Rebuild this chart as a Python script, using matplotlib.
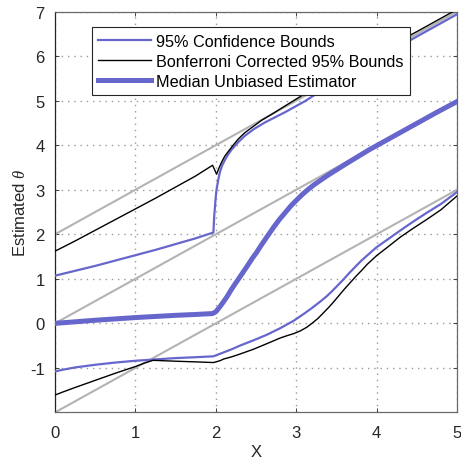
import matplotlib
matplotlib.use("Agg")
import matplotlib.pyplot as plt

plt.rcParams['font.family'] = ['Liberation Sans', 'DejaVu Sans']
plt.rcParams['mathtext.fontset'] = 'custom'
plt.rcParams['mathtext.it'] = 'Liberation Serif:italic'
plt.rcParams['axes.unicode_minus'] = False

# Reference diagonals y = x + offset
diag_x = [0, 5]
diag_offsets = [2, 0, -2]

# 95% confidence bounds
ci_hi_x = [0, 0.25, 0.5, 0.75, 1, 1.25, 1.5, 1.75, 1.97, 1.98, 2.0, 2.01, 2.03, 2.05,
           2.08, 2.12, 2.16, 2.2, 2.28, 2.36, 2.48, 2.61, 2.75, 2.86, 3.0, 3.11, 3.3,
           3.5, 3.75, 4.0, 4.25, 4.5, 4.75, 5.0]
ci_hi_y = [1.07, 1.18, 1.29, 1.41, 1.53, 1.65, 1.78, 1.91, 2.04, 2.4, 2.85, 3.01, 3.22,
           3.39, 3.55, 3.69, 3.81, 3.91, 4.07, 4.21, 4.37, 4.51, 4.64, 4.74, 4.88, 4.99,
           5.21, 5.42, 5.68, 5.93, 6.19, 6.44, 6.69, 6.94]

ci_lo_x = [0, 0.1, 0.25, 0.5, 0.75, 1, 1.25, 1.5, 1.75, 1.97, 2.0, 2.1, 2.2, 2.3, 2.47,
           2.63, 2.8, 2.97, 3.1, 3.2, 3.3, 3.38, 3.45, 3.52, 3.59, 3.66, 3.73, 3.8, 3.88,
           4.0, 4.15, 4.29, 4.46, 4.63, 4.8, 5.0]
ci_lo_y = [-1.08, -1.04, -0.99, -0.93, -0.88, -0.84, -0.81, -0.78, -0.76, -0.74, -0.72,
           -0.65, -0.58, -0.50, -0.38, -0.26, -0.11, 0.06, 0.22, 0.35, 0.49, 0.61, 0.73,
           0.86, 0.99, 1.13, 1.26, 1.39, 1.52, 1.71, 1.9, 2.08, 2.29, 2.49, 2.68, 2.95]

# Bonferroni corrected 95% bounds
bonf_hi_x = [0, 0.25, 0.5, 0.75, 1, 1.25, 1.5, 1.75, 1.96, 2.01, 2.04, 2.07, 2.11, 2.16,
             2.22, 2.28, 2.36, 2.45, 2.57, 2.7, 2.86, 3.03, 3.25, 3.5, 3.75, 4.0, 4.25,
             4.5, 4.75, 4.95, 5.0]
bonf_hi_y = [1.62, 1.85, 2.09, 2.33, 2.57, 2.81, 3.06, 3.31, 3.55, 3.35, 3.49, 3.61,
             3.75, 3.87, 4.01, 4.14, 4.28, 4.40, 4.56, 4.70, 4.88, 5.07, 5.31, 5.56, 5.81,
             6.06, 6.31, 6.55, 6.80, 7.0, 7.05]

bonf_lo_x = [0, 0.1, 0.25, 0.5, 0.75, 1, 1.1, 1.22, 1.5, 1.75, 1.97, 2.05, 2.1, 2.2, 2.3,
             2.47, 2.63, 2.8, 2.88, 2.97, 3.05, 3.13, 3.21, 3.27, 3.33, 3.4, 3.46, 3.53,
             3.6, 3.68, 3.75, 3.82, 3.88, 3.94, 4.0, 4.15, 4.29, 4.46, 4.63, 4.8, 5.0]
bonf_lo_y = [-1.61, -1.54, -1.44, -1.28, -1.12, -0.97, -0.90, -0.83, -0.85, -0.865,
             -0.88, -0.84, -0.80, -0.75, -0.69, -0.58, -0.46, -0.33, -0.28, -0.23, -0.17,
             -0.09, 0.02, 0.11, 0.22, 0.35, 0.47, 0.62, 0.77, 0.93, 1.07, 1.2, 1.32, 1.42,
             1.52, 1.73, 1.93, 2.14, 2.34, 2.55, 2.86]

# Median unbiased estimator
mue_x = [0, 0.25, 0.5, 0.75, 1, 1.25, 1.5, 1.75, 1.96, 2.0, 2.05, 2.09, 2.14, 2.18, 2.23,
         2.28, 2.34, 2.4, 2.45, 2.51, 2.56, 2.62, 2.67, 2.72, 2.79, 2.86, 2.93, 3.0,
         3.08, 3.15, 3.22, 3.3, 3.38, 3.45, 3.53, 3.6, 3.7, 3.8, 3.9, 4.0, 4.25, 4.5,
         4.75, 5.0]
mue_y = [0.0, 0.035, 0.07, 0.10, 0.13, 0.155, 0.18, 0.20, 0.22, 0.26, 0.37, 0.47, 0.60,
         0.72, 0.86, 0.99, 1.15, 1.31, 1.45, 1.60, 1.74, 1.90, 2.03, 2.16, 2.33, 2.48,
         2.63, 2.76, 2.90, 3.01, 3.11, 3.21, 3.31, 3.39, 3.48, 3.56, 3.67, 3.78, 3.89,
         3.99, 4.24, 4.49, 4.74, 4.98]

x_ticks = [0, 1, 2, 3, 4, 5]
y_ticks = [-1, 0, 1, 2, 3, 4, 5, 6, 7]

blue = '#6666CC'
gray = '#B3B3B3'
axis_col = '#262626'

fig = plt.figure(figsize=(4.61, 4.64), dpi=100)
ax = fig.add_axes([0.1193, 0.109, 0.872, 0.8638])

for off in diag_offsets:
    ax.plot(diag_x, [v + off for v in diag_x], color=gray, lw=1.5, zorder=2)

h_ci, = ax.plot(ci_hi_x, ci_hi_y, color=blue, lw=1.6, zorder=3,
                label='95% Confidence Bounds')
ax.plot(ci_lo_x, ci_lo_y, color=blue, lw=1.6, zorder=3)
h_bf, = ax.plot(bonf_hi_x, bonf_hi_y, color='black', lw=1.0, zorder=4,
                label='Bonferroni Corrected 95% Bounds')
ax.plot(bonf_lo_x, bonf_lo_y, color='black', lw=1.0, zorder=4)
h_mu, = ax.plot(mue_x, mue_y, color=blue, lw=3.6, zorder=5,
                solid_joinstyle='round', label='Median Unbiased Estimator')

ax.set_xlim(0, 5)
ax.set_ylim(-2, 7)
ax.set_xticks(x_ticks)
ax.set_yticks(y_ticks)
ax.tick_params(direction='in', length=3, width=0.6, colors=axis_col,
               labelsize=12, top=True, right=True)
ax.tick_params(axis='x', pad=9)
ax.tick_params(axis='y', pad=7.5)
ax.grid(True, linestyle=(0, (1, 3.5)), color='#999999', lw=1.0)
for name, s in ax.spines.items():
    s.set_color('#262626' if name == 'left' else '#6a6a6a')
    s.set_linewidth(0.9)

ax.set_xlabel('X', fontsize=12, color=axis_col, labelpad=3)
ax.set_ylabel(r'Estimated $\theta$', fontsize=12, color=axis_col, labelpad=1)

leg = ax.legend(handles=[h_ci, h_bf, h_mu], loc='upper left',
                bbox_to_anchor=(0.092, 0.9616), fontsize=11.7, frameon=True,
                fancybox=False, edgecolor='#262626', framealpha=1,
                handlelength=3.26, handletextpad=0.3, borderpad=0.4,
                labelspacing=0.32, borderaxespad=0)
leg.get_frame().set_linewidth(0.8)

fig.savefig('out.png', dpi=100)
